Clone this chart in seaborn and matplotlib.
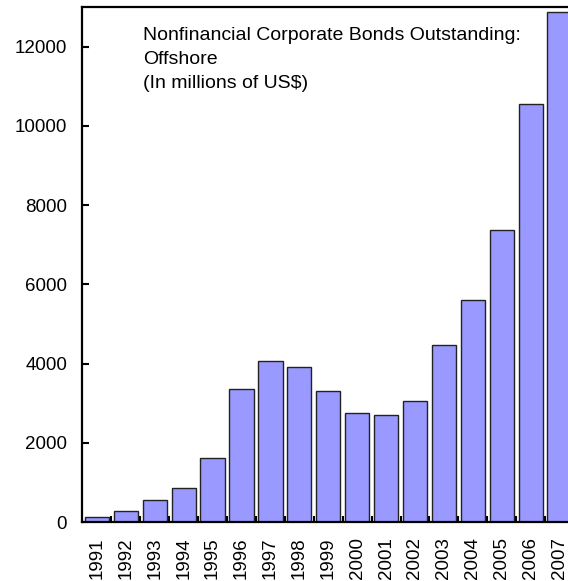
import matplotlib
matplotlib.use("Agg")
import matplotlib.pyplot as plt
import seaborn as sns
import pandas as pd
import numpy as np

years = [str(y) for y in range(1991, 2008)]
outstanding = [130, 275, 560, 850, 1605, 3355, 4075, 3905, 3300, 2760,
               2705, 3065, 4465, 5600, 7360, 10550, 12870]
yticks = [0, 2000, 4000, 6000, 8000, 10000, 12000]
title_lines = ["Nonfinancial Corporate Bonds Outstanding:", "Offshore",
               "(In millions of US$)"]

sns.set_style("white")
plt.rcParams["font.family"] = ["Liberation Sans", "DejaVu Sans"]
plt.rcParams["text.color"] = "black"
plt.rcParams["xtick.color"] = "black"
plt.rcParams["ytick.color"] = "black"

df = pd.DataFrame({"year": years, "value": outstanding})

fig = plt.figure(figsize=(5.68, 5.81), dpi=100)
ax = fig.add_axes([0.1452, 0.1015, 0.8654, 0.8865])

sns.barplot(data=df, x="year", y="value", color="#9999FF", saturation=1,
            width=0.84, edgecolor="#222222", linewidth=1.0, ax=ax)

ax.set_xlim(-0.5, len(years) - 0.5)
ax.set_ylim(0, 13000)
ax.set_yticks(yticks)
ax.set_yticklabels([str(t) for t in yticks], fontsize=13.5)
ax.set_xlabel("")
ax.set_ylabel("")
ax.set_xticks(range(len(years)))
ax.set_xticklabels(years, rotation=90, fontsize=13.5)
ax.set_xticks(np.arange(0.5, len(years) - 0.5, 1.0), minor=True)

ax.tick_params(axis="y", which="major", direction="in", length=5, width=1.5,
               pad=11, left=True, color="black", labelcolor="black")
ax.tick_params(axis="x", which="major", length=0, pad=11, labelcolor="black")
ax.tick_params(axis="x", which="minor", direction="in", length=4, width=1.5,
               bottom=True, color="black")

for side in ["left", "bottom", "top", "right"]:
    ax.spines[side].set_visible(True)
    ax.spines[side].set_linewidth(1.6)
    ax.spines[side].set_color("black")

ax.text(0.123, 0.962, "\n".join(title_lines), transform=ax.transAxes,
        ha="left", va="top", fontsize=14, linespacing=1.55, color="black")

fig.savefig("out.png", dpi=100)
